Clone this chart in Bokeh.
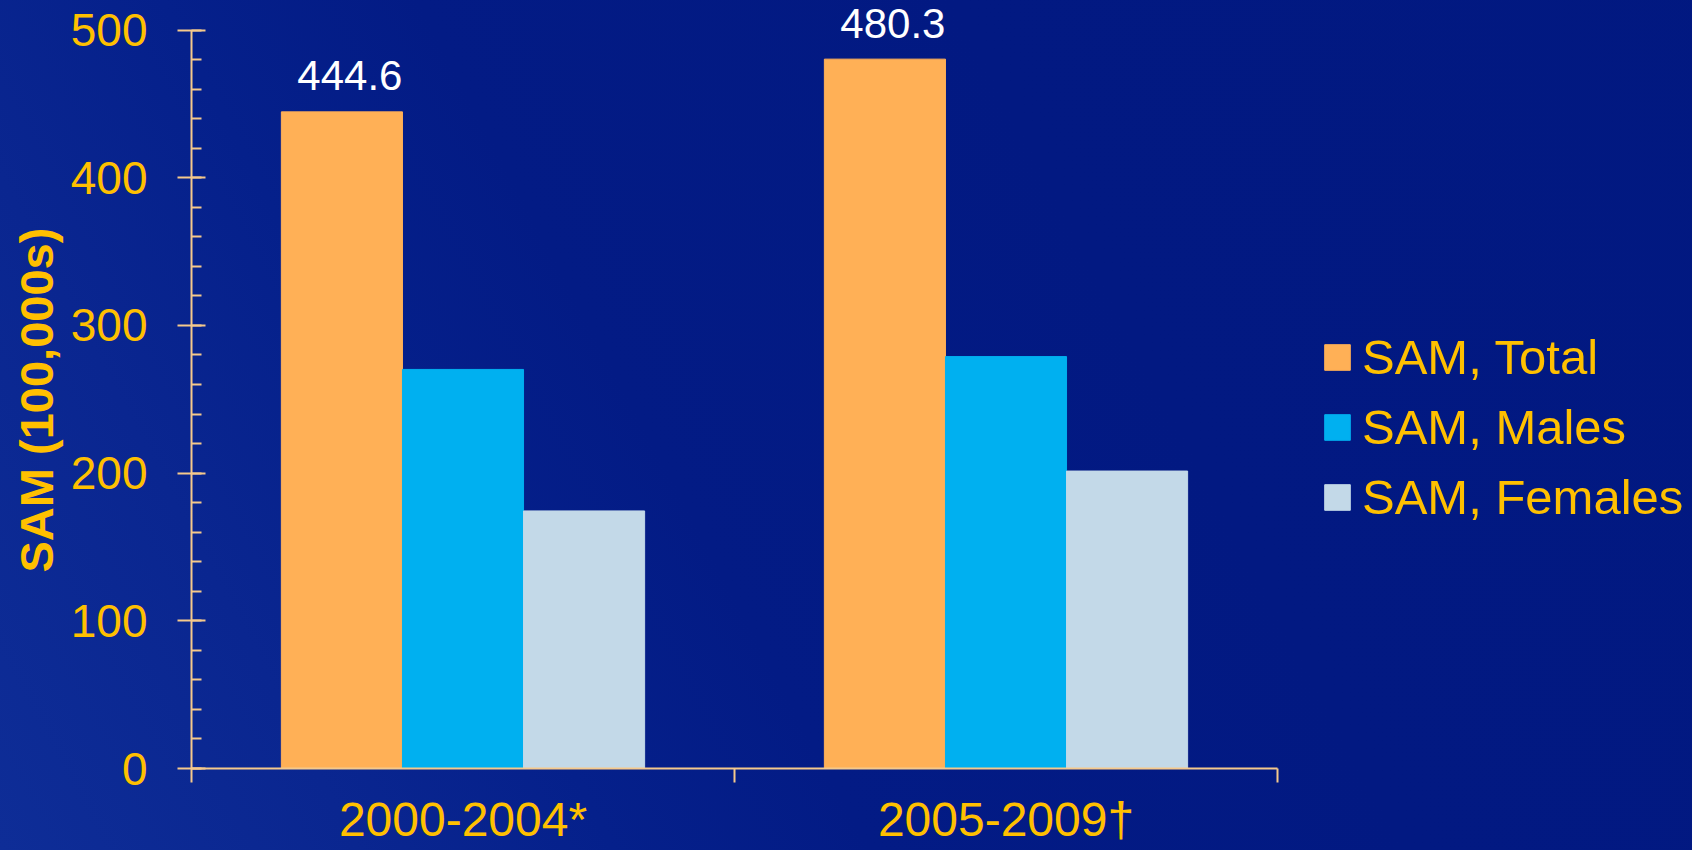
from bokeh.plotting import figure
from bokeh.models import (Range1d, LinearAxis, FixedTicker, SingleIntervalTicker,
                          Legend, LegendItem, ColumnDataSource, InlineStyleSheet, Title)
from bokeh.core.properties import value
from bokeh.transform import dodge
from bokeh.embed import file_html
from bokeh.resources import INLINE

# Smoking-attributable mortality, in 100,000s
periods = ["2000-2004*", "2005-2009†"]
series = ["SAM, Total", "SAM, Males", "SAM, Females"]
total = [444.6, 480.3]
males = [270.2, 278.9]
females = [174.4, 201.4]
y_ticks = [0, 100, 200, 300, 400, 500]
y_title = "SAM (100,000s)"

colors = ["#FFB056", "#00B0F0", "#C3D9E8"]
GOLD = "#FFC000"
TAN = "#F5C98C"
FONT = "Liberation Sans"

# each period occupies one unit slot on the x scale; bars sit around the slot centre
centers = [i + 0.5 for i in range(len(periods))]
bounds = list(range(len(periods) + 1))

src = ColumnDataSource(dict(xc=centers, total=total, males=males, females=females,
                            total_txt=[f"{v:.1f}" for v in total]))

# a little headroom above 500 so the value labels are not clipped
p = figure(x_range=Range1d(bounds[0], bounds[-1]),
           y_range=Range1d(y_ticks[0], 520),
           frame_width=1086, frame_height=768,
           min_border_left=191, min_border_right=415,
           min_border_top=0, min_border_bottom=82,
           x_axis_location=None,
           output_backend="svg", toolbar_location=None)

# deep blue slide background, slightly lighter towards the lower left
p.background_fill_alpha = 0
p.border_fill_alpha = 0
p.outline_line_color = None
p.stylesheets = [InlineStyleSheet(css="""
:host {
  background: linear-gradient(62deg, #0E2D97 0%, #0A2690 14%, #05208B 24%,
                              #031B85 34%, #021982 55%, #011880 100%);
}
""")]
p.xgrid.visible = False
p.ygrid.visible = False

# grouped bars
bw = 0.223
renderers = []
for col, off, color in zip(["total", "males", "females"], [-bw, 0, bw], colors):
    r = p.vbar(x=dodge("xc", off), top=col, width=bw,
               source=src, fill_color=color, line_color=color, line_width=1)
    renderers.append(r)

# value labels above the total bars
p.text(x=dodge("xc", -bw), y="total", text="total_txt",
       source=src, text_color="white", text_font=value(FONT),
       text_font_size="42px", text_align="center", text_baseline="middle",
       x_offset=8, y_offset=-36)

# y axis (its title is a separate side title so it can sit on the 0-500 span)
ya = p.yaxis[0]
ya.bounds = (y_ticks[0], y_ticks[-1])
ya.ticker = SingleIntervalTicker(interval=100, num_minor_ticks=5)
ya.major_label_text_font = FONT
ya.major_label_text_font_size = "46px"
ya.major_label_text_color = GOLD
ya.major_label_standoff = 30
ya.axis_line_color = TAN
ya.axis_line_width = 2
ya.major_tick_line_color = TAN
ya.major_tick_line_width = 2
ya.major_tick_in = 14
ya.major_tick_out = 14
ya.minor_tick_line_color = TAN
ya.minor_tick_line_width = 2
ya.minor_tick_in = 10
ya.minor_tick_out = 0

p.add_layout(Title(text=y_title, align="left", offset=196, standoff=9,
                   vertical_align="bottom",
                   text_font=FONT, text_font_style="bold", text_font_size="47px",
                   text_color=GOLD), "left")

# x axis: ticks on the period boundaries
xb = LinearAxis(ticker=FixedTicker(ticks=bounds, minor_ticks=[]),
                major_label_overrides={b: "" for b in bounds},
                major_label_text_font_size="0px", major_label_standoff=0,
                axis_line_color=TAN, axis_line_width=2,
                major_tick_line_color=TAN, major_tick_line_width=2,
                major_tick_in=0, major_tick_out=14,
                minor_tick_line_color=None)
p.add_layout(xb, "below")

# x axis: period names under each slot
xc = LinearAxis(ticker=FixedTicker(ticks=centers, minor_ticks=[]),
                major_label_overrides={c: name for c, name in zip(centers, periods)},
                axis_line_color=None, major_tick_line_color=None,
                major_tick_in=0, major_tick_out=0, minor_tick_line_color=None,
                major_label_text_font=FONT, major_label_text_font_size="48px",
                major_label_text_color=GOLD, major_label_standoff=10)
p.add_layout(xc, "below")

legend = Legend(items=[LegendItem(label=s, renderers=[r]) for s, r in zip(series, renderers)],
                location=(44, 243), orientation="vertical",
                glyph_width=32, glyph_height=32, label_standoff=9, spacing=14,
                padding=0, margin=0, border_line_color=None, background_fill_alpha=0,
                label_text_font=FONT, label_text_font_size="49px", label_text_color=GOLD)
p.add_layout(legend, "right")

open("out.html", "w").write(file_html(p, INLINE))
